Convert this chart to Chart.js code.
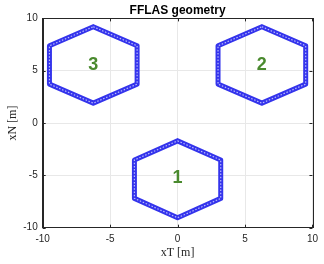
<!DOCTYPE html>
<html>
<head>
<meta charset="utf-8">
<script src="https://cdn.jsdelivr.net/npm/chart.js@4/dist/chart.umd.min.js"></script>
<style>
html,body{margin:0;padding:0;background:#fff;}
#wrap{width:324px;height:264px;}
</style>
</head>
<body>
<div id="wrap"><canvas id="c" width="324" height="264"></canvas></div>
<script>
// Hexagon vertices (closed outlines)
const hex1X = [0, 3.2, 3.2, 0, -3.2, -3.2, 0];
const hex1Y = [-1.7, -3.53, -7.2, -9.05, -7.2, -3.53, -1.7];
const hex2X = [6.25, 9.5, 9.5, 6.25, 3.0, 3.0, 6.25];
const hex2Y = [9.2, 7.38, 3.72, 1.9, 3.72, 7.38, 9.2];
const hex3X = [-6.25, -3.0, -3.0, -6.25, -9.5, -9.5, -6.25];
const hex3Y = [9.2, 7.38, 3.72, 1.9, 3.72, 7.38, 9.2];
// Labels
const labelText = ['1', '2', '3'];
const labelX = [0, 6.25, -6.25];
const labelY = [-5.3, 5.5, 5.5];
// Axes
const axisMin = -10, axisMax = 10, tickStep = 5;
const titleText = 'FFLAS geometry';
const xTitle = 'xT [m]';
const yTitle = 'xN [m]';

function pts(xs, ys){ return xs.map((x,i)=>({x:x, y:ys[i]})); }
const hexes = [[hex1X,hex1Y],[hex2X,hex2Y],[hex3X,hex3Y]];
const datasets = [];
hexes.forEach(h=>{
  datasets.push({data:pts(h[0],h[1]), order:2, showLine:true, pointRadius:0, borderColor:'#3434ec', borderWidth:5, borderJoinStyle:'round', borderCapStyle:'round', tension:0});
});
hexes.forEach(h=>{
  datasets.push({data:pts(h[0],h[1]), order:1, showLine:true, pointRadius:0, borderColor:'rgba(200,200,255,0.9)', borderWidth:1.2, borderDash:[1.5,1.7], tension:0});
});

const boxPlugin = {
  id:'boxAndLabels',
  afterDatasetsDraw(chart){
    const ctx = chart.ctx, a = chart.chartArea;
    const xs = chart.scales.x, ys = chart.scales.y;
    ctx.save();
    // labels
    ctx.fillStyle = '#4a8a2e';
    ctx.font = 'bold 18px "Liberation Sans", Arial, sans-serif';
    ctx.textAlign = 'center';
    ctx.textBaseline = 'middle';
    labelText.forEach((t,i)=>{
      ctx.fillText(t, xs.getPixelForValue(labelX[i]), ys.getPixelForValue(labelY[i]));
    });
    // box
    ctx.strokeStyle = '#262626';
    ctx.lineWidth = 1;
    ctx.strokeRect(Math.round(a.left)+0.5, Math.round(a.top)+0.5, Math.round(a.right-a.left), Math.round(a.bottom-a.top));
    // inside tick marks
    ctx.beginPath();
    for(let v=axisMin; v<=axisMax; v+=tickStep){
      const px = Math.round(xs.getPixelForValue(v))+0.5;
      ctx.moveTo(px, a.bottom); ctx.lineTo(px, a.bottom-3);
      ctx.moveTo(px, a.top); ctx.lineTo(px, a.top+3);
      const py = Math.round(ys.getPixelForValue(v))+0.5;
      ctx.moveTo(a.left, py); ctx.lineTo(a.left+3, py);
      ctx.moveTo(a.right, py); ctx.lineTo(a.right-3, py);
    }
    ctx.stroke();
    ctx.restore();
  }
};

new Chart(document.getElementById('c'), {
  type:'scatter',
  data:{datasets:datasets},
  plugins:[boxPlugin],
  options:{
    responsive:false,
    animation:false,
    layout:{padding:{left:0,right:11,top:0,bottom:0}},
    plugins:{
      legend:{display:false},
      tooltip:{enabled:false},
      title:{display:true, text:titleText, fullSize:false, color:'#000',
        font:{family:'"Liberation Sans", Arial, sans-serif', size:12, weight:'bold', lineHeight:1.2},
        padding:{top:3,bottom:1}}
    },
    scales:{
      x:{type:'linear', min:axisMin, max:axisMax,
        afterFit(s){ s.height = 36.3; },
        ticks:{stepSize:tickStep, color:'#262626', padding:6, font:{family:'"Liberation Sans", Arial, sans-serif', size:10}},
        grid:{color:'#e8e8e8', drawTicks:false},
        border:{color:'#262626'},
        title:{display:true, text:xTitle, color:'#262626', padding:{top:5,bottom:4},
          font:{family:'"Liberation Serif", "DejaVu Serif", serif', size:12}}
      },
      y:{type:'linear', min:axisMin, max:axisMax,
        afterFit(s){ s.width = 42.7; },
        ticks:{stepSize:tickStep, color:'#262626', padding:5, font:{family:'"Liberation Sans", Arial, sans-serif', size:10}},
        grid:{color:'#e8e8e8', drawTicks:false},
        border:{color:'#262626'},
        title:{display:true, text:yTitle, color:'#262626', padding:{top:6,bottom:6},
          font:{family:'"Liberation Serif", "DejaVu Serif", serif', size:12}}
      }
    }
  }
});
</script>
</body>
</html>
